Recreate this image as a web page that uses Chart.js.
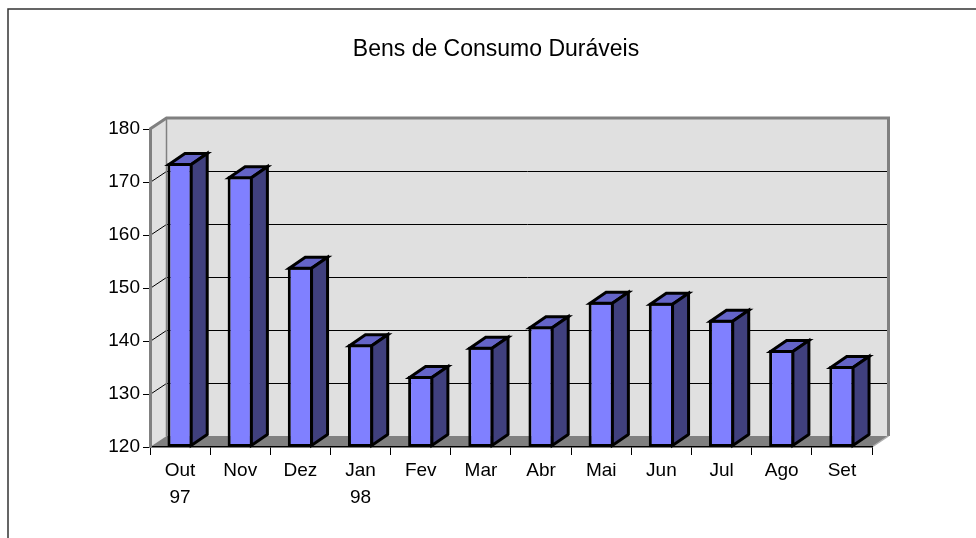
<!DOCTYPE html>
<html><head><meta charset="utf-8">
<script src="https://cdn.jsdelivr.net/npm/chart.js@4.4.1/dist/chart.umd.min.js"></script>
<style>html,body{margin:0;padding:0;background:#fff;overflow:hidden}canvas{display:block}</style>
</head><body>
<canvas id="c" width="976" height="538"></canvas>
<script>
const chartTitle = 'Bens de Consumo Duráveis';
const categories = [['Out','97'],['Nov'],['Dez'],['Jan','98'],['Fev'],['Mar'],['Abr'],['Mai'],['Jun'],['Jul'],['Ago'],['Set']];
const values = [173.6,171.1,154.0,139.4,133.4,138.9,142.8,147.4,147.2,144.0,138.3,135.3];
const yMin = 120, yMax = 180, yStep = 10;

const FONT = "'Liberation Sans', Arial, sans-serif";
const DX = 16.5, DY = -11;       // depth of walls
const BDX = 16, BDY = -11;       // depth of bars

const scene = {
  id: 'scene',
  beforeDraw(chart) {
    const {ctx, chartArea: a, scales: {y}} = chart;
    const L = a.left, R = a.right, T = a.top, B = a.bottom;
    ctx.save();
    ctx.fillStyle = '#fff';
    ctx.fillRect(0, 0, chart.width, chart.height);
    // outer frame
    ctx.strokeStyle = '#333'; ctx.lineWidth = 1.5;
    ctx.beginPath(); ctx.moveTo(8, chart.height); ctx.lineTo(8, 9); ctx.lineTo(chart.width, 9); ctx.stroke();
    // back wall
    ctx.fillStyle = '#e0e0e0';
    ctx.fillRect(L + DX, T + DY, R - L, B - T);
    // side wall
    ctx.beginPath(); ctx.moveTo(L, T); ctx.lineTo(L + DX, T + DY); ctx.lineTo(L + DX, B + DY); ctx.lineTo(L, B); ctx.closePath(); ctx.fill();
    // floor
    ctx.fillStyle = '#808080';
    ctx.beginPath(); ctx.moveTo(L, B); ctx.lineTo(L + DX, B + DY); ctx.lineTo(R + DX, B + DY); ctx.lineTo(R, B); ctx.closePath(); ctx.fill();
    // gridlines
    ctx.strokeStyle = '#000'; ctx.lineWidth = 1;
    for (let v = yMin + yStep; v < yMax; v += yStep) {
      const yy = Math.round(y.getPixelForValue(v)) + 0.5;
      ctx.beginPath();
      ctx.moveTo(L, yy); ctx.lineTo(L + DX, yy + DY); ctx.lineTo(R + DX, yy + DY);
      ctx.stroke();
    }
    // wall outlines
    ctx.strokeStyle = '#808080'; ctx.lineWidth = 3; ctx.lineJoin = 'miter';
    ctx.beginPath();
    ctx.moveTo(L, T); ctx.lineTo(L + DX, T + DY); ctx.lineTo(R + DX, T + DY); ctx.lineTo(R + DX, B + DY);
    ctx.stroke();
    ctx.lineWidth = 1.5;
    ctx.beginPath(); ctx.moveTo(L + DX, T + DY); ctx.lineTo(L + DX, B + DY); ctx.stroke();
    ctx.strokeStyle = '#b0b0b0'; ctx.lineWidth = 1.5;
    ctx.beginPath(); ctx.moveTo(R, B); ctx.lineTo(R + DX, B + DY); ctx.stroke();
    ctx.restore();
  },
  afterDatasetsDraw(chart) {
    const {ctx, scales: {y}} = chart;
    const meta = chart.getDatasetMeta(0);
    const bw = chart.data.datasets[0].borderWidth;
    const h = bw / 2;
    const base = y.getPixelForValue(yMin);
    ctx.save();
    ctx.strokeStyle = '#000'; ctx.lineWidth = bw; ctx.lineJoin = 'miter';
    meta.data.forEach(el => {
      const p = el.getProps(['x', 'y', 'width'], true);
      const xl = p.x - p.width / 2 + h, xr = p.x + p.width / 2 - h;
      const yt = p.y + h, yb = base - h;
      // top face
      ctx.fillStyle = '#6464c8';
      ctx.beginPath();
      ctx.moveTo(xl, yt); ctx.lineTo(xl + BDX, yt + BDY); ctx.lineTo(xr + BDX, yt + BDY); ctx.lineTo(xr, yt); ctx.closePath();
      ctx.fill(); ctx.stroke();
      // side face
      ctx.fillStyle = '#40407e';
      ctx.beginPath();
      ctx.moveTo(xr, yt); ctx.lineTo(xr + BDX, yt + BDY); ctx.lineTo(xr + BDX, yb + BDY); ctx.lineTo(xr, yb); ctx.closePath();
      ctx.fill(); ctx.stroke();
    });
    ctx.restore();
  }
};

new Chart(document.getElementById('c'), {
  type: 'bar',
  data: {
    labels: categories,
    datasets: [{
      data: values.map(v => [yMin, v]),
      backgroundColor: '#8080ff',
      borderColor: '#000',
      borderWidth: 3,
      borderSkipped: false,
      categoryPercentage: 1,
      barPercentage: 0.42
    }]
  },
  options: {
    responsive: false,
    animation: false,
    devicePixelRatio: 1,
    layout: {padding: {left: 16, right: 0, top: 0, bottom: 0}},
    plugins: {
      legend: {display: false},
      tooltip: {enabled: false},
      title: {
        display: true, text: chartTitle, color: '#000',
        font: {family: FONT, size: 23, weight: 'normal', lineHeight: 1.2},
        padding: {top: 36, bottom: 65.4}
      }
    },
    scales: {
      x: {
        grid: {display: true, offset: true, drawOnChartArea: false, drawTicks: true, tickLength: 8, color: '#000', lineWidth: 1},
        border: {display: true, color: '#000', width: 1.5},
        ticks: {color: '#000', font: {family: FONT, size: 19, lineHeight: 1.42}, padding: 2, maxRotation: 0, autoSkip: false},
        afterFit(s) { s.height = 91; }
      },
      y: {
        min: yMin, max: yMax,
        grid: {display: true, drawOnChartArea: false, drawTicks: true, tickLength: 7, color: '#000', lineWidth: 1},
        border: {display: true, color: '#808080', width: 3},
        ticks: {stepSize: yStep, color: '#000', font: {family: FONT, size: 19}, padding: 3},
        afterFit(s) { s.width = 134; }
      },
      spacer: {
        type: 'linear', position: 'right', display: true,
        grid: {display: false, drawOnChartArea: false, drawTicks: false},
        border: {display: false},
        ticks: {display: false},
        afterFit(s) { s.width = 104; }
      }
    }
  },
  plugins: [scene]
});
</script>
</body></html>
